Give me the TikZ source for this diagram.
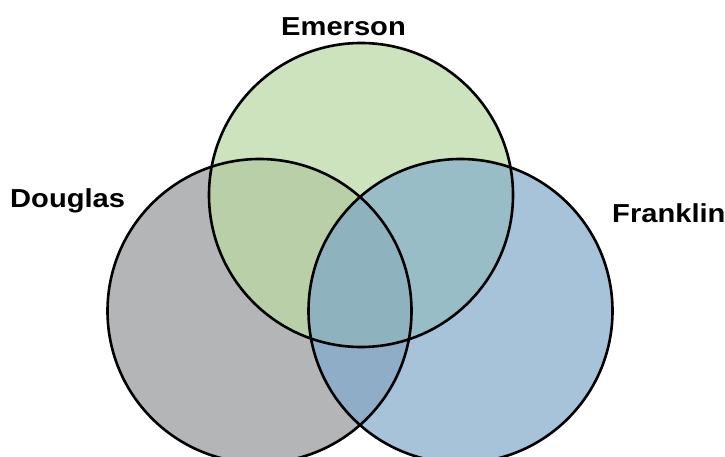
\documentclass[tikz,border=0pt]{standalone}
\usepackage{fontspec}
\newfontfamily\setfont[FakeStretch=1.12]{Liberation Sans}
\usepackage{tikz}
\definecolor{dgray}{HTML}{B4B5B7}
\definecolor{egreen}{HTML}{CCE3BE}
\definecolor{fblue}{HTML}{A6C3DA}
\definecolor{degreen}{HTML}{B8CFA8}
\definecolor{efblue}{HTML}{98BDC7}
\definecolor{dfblue}{HTML}{8FADC6}
\definecolor{defblue}{HTML}{8FB3BE}
\tikzset{
  setline/.style={draw=black, line width=2.6pt},
  setlabel/.style={inner sep=0pt, font=\setfont\bfseries\fontsize{26}{30}\selectfont}
}

\begin{document}
\begin{tikzpicture}[x=1pt, y=1pt]

  \useasboundingbox (0,0) rectangle (725,456);

  \coordinate (dc) at (259.5,145);
  \coordinate (ec) at (361,261);
  \coordinate (fc) at (460.5,145);

  % base fills
  \fill[dgray] (dc) circle (152pt);
  \fill[egreen] (ec) circle (152pt);
  \fill[fblue] (fc) circle (152pt);

  % overlaps
  \begin{scope}
    \clip (dc) circle (152pt);
    \fill[degreen] (ec) circle (152pt);
    \fill[dfblue] (fc) circle (152pt);
  \end{scope}
  \begin{scope}
    \clip (ec) circle (152pt);
    \fill[efblue] (fc) circle (152pt);
    \clip (fc) circle (152pt);
    \fill[defblue] (dc) circle (152pt);
  \end{scope}

  % outlines
  \draw[setline] (dc) circle (152pt);
  \draw[setline] (ec) circle (152pt);
  \draw[setline] (fc) circle (152pt);

  \node[setlabel, anchor=base] (emerson) at (343.5,420) {Emerson};
  \node[setlabel, anchor=base west] (douglas) at (10,249) {Douglas};
  \node[setlabel, anchor=base west] (franklin) at (612,234) {Franklin};

\end{tikzpicture}
\end{document}
